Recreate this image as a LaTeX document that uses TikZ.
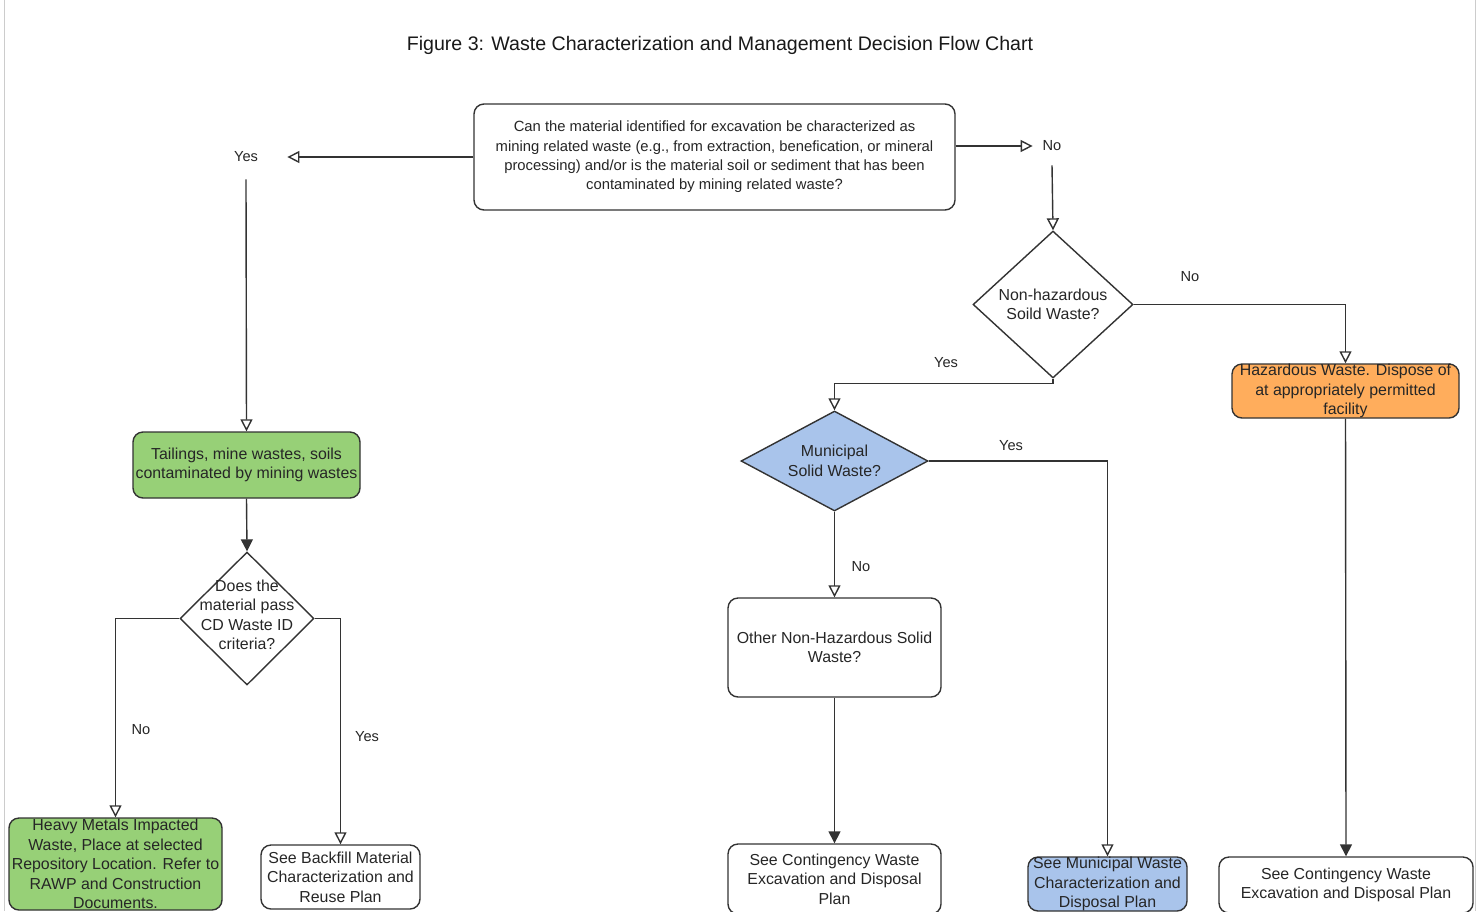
\documentclass[tikz,border=0pt]{standalone}
\usepackage{fontspec}
\setmainfont{Liberation Sans}
\usetikzlibrary{shapes.geometric,arrows.meta}
\definecolor{minegreen}{HTML}{97D077}
\definecolor{hazorange}{HTML}{FFAD5C}
\definecolor{muniblue}{HTML}{A9C4EB}
\begin{document}
\begin{tikzpicture}[x=0.5pt,y=-0.5pt]
  \tikzset{
    box/.style={
      rectangle,
      rounded corners=5pt,
      draw=black!80,
      line width=0.7pt,
      align=center,
      inner sep=0pt,
      text=black!85,
      font=\fontsize{7.95}{9.7}\selectfont
    },
    decision/.style={
      diamond,
      draw=black!80,
      line width=0.7pt,
      inner sep=0pt
    },
    dtext/.style={align=center, text=black!85, font=\fontsize{7.95}{9.7}\selectfont},
    lbl/.style={inner sep=0pt, text=black!85, font=\fontsize{7.3}{8}\selectfont},
    link/.style={line width=0.7pt, draw=black!80, -{Triangle[open, length=6pt, width=6pt]}},
    flink/.style={line width=0.7pt, draw=black!80, -{Triangle[length=6pt, width=6pt]}}
  }

  \useasboundingbox (0,0) rectangle (1481,911);
  \clip (0,0) rectangle (1481,911);
  \fill[white] (0,0) rectangle (1481,911);
  \draw[black!20] (4,0) -- (4,911);
  \draw[black!20] (1475,0) -- (1475,911);

  \node[inner sep=0pt, text=black!90, font=\fontsize{9.8}{12}\selectfont] (title) at (720,45)
    {Figure 3: Waste Characterization and Management Decision Flow Chart};

  \node[box, font=\fontsize{7.4}{9.7}\selectfont, minimum width=240.5pt, minimum height=53pt] (Q1) at (714.5,157)
    {Can the material identified for excavation be characterized as\\
     mining related waste (e.g., from extraction, benefication, or mineral\\
     processing) and/or is the material soil or sediment that has been\\
     contaminated by mining related waste?};

  \node[lbl, minimum width=41pt, minimum height=22pt] (yes) at (246,157) {Yes};
  \node[lbl, minimum width=19pt, minimum height=19pt] (no) at (1052,146) {No};

  \node[decision, minimum width=80pt, minimum height=73.5pt,
    label={[dtext]center:{Non-hazardous\\Soild Waste?}}] (D1) at (1053,304.5) {};
  \node[decision, fill=muniblue, minimum width=93.5pt, minimum height=50pt,
    label={[dtext]center:{Municipal\\Solid Waste?}}] (D2) at (834.5,461) {};
  \node[decision, minimum width=67pt, minimum height=66.5pt,
    label={[dtext, yshift=1.75pt]center:{Does the\\material pass\\CD Waste ID\\criteria?}}] (D3) at (247,618.5) {};

  \node[box, fill=minegreen, minimum width=113.5pt, minimum height=33pt] (tail) at (246.5,465)
    {Tailings, mine wastes, soils\\contaminated by mining wastes};
  \node[box, fill=hazorange, minimum width=113.5pt, minimum height=27pt] (haz) at (1345.5,391)
    {Hazardous Waste. Dispose of\\at appropriately permitted\\facility};
  \node[box, minimum width=106.5pt, minimum height=49.5pt] (other) at (834.5,647.5)
    {Other Non-Hazardous Solid\\Waste?};
  \node[box, fill=minegreen, minimum width=106.5pt, minimum height=46pt] (heavy) at (115.5,864)
    {Heavy Metals Impacted\\Waste, Place at selected\\Repository Location. Refer to\\RAWP and Construction\\Documents.};
  \node[box, minimum width=79.5pt, minimum height=32pt] (backfill) at (340.5,877)
    {See Backfill Material\\Characterization and\\Reuse Plan};
  \node[box, minimum width=106.5pt, minimum height=35pt] (cont1) at (834.5,879)
    {See Contingency Waste\\Excavation and Disposal\\Plan};
  \node[box, fill=muniblue, minimum width=79.5pt, minimum height=27pt] (muni) at (1107.5,884)
    {See Municipal Waste\\Characterization and\\Disposal Plan};
  \node[box, minimum width=127pt, minimum height=28pt] (cont2) at (1346,885)
    {See Contingency Waste\\Excavation and Disposal Plan};

  \node[lbl] (l1) at (1190,277) {No};
  \node[lbl] (l2) at (946,363) {Yes};
  \node[lbl] (l3) at (1011,446) {Yes};
  \node[lbl] (l4) at (861,567) {No};
  \node[lbl] (l5) at (141,730) {No};
  \node[lbl] (l6) at (367,737) {Yes};

  \draw[link] (Q1.west) -- (yes.east);
  \draw[link] (yes.south) -- (tail.north);
  \draw[link] (Q1.east |- no.west) -- (no.west);
  \draw[link] (no.south) -- (D1.north);
  \draw[link] (D1.east) -| (haz.north);
  \draw[link] (D1.south) -- ++(0,5) -| (D2.north);
  \draw[link] (D2.east) -| (muni.north);
  \draw[link] (D2.south) -- (other.north);
  \draw[flink] (other.south) -- (cont1.north);
  \draw[flink] (haz.south) -- (cont2.north);
  \draw[flink] (tail.south) -- (D3.north);
  \draw[link] (D3.west) -| (heavy.north);
  \draw[link] (D3.east) -| (backfill.north);
\end{tikzpicture}
\end{document}
